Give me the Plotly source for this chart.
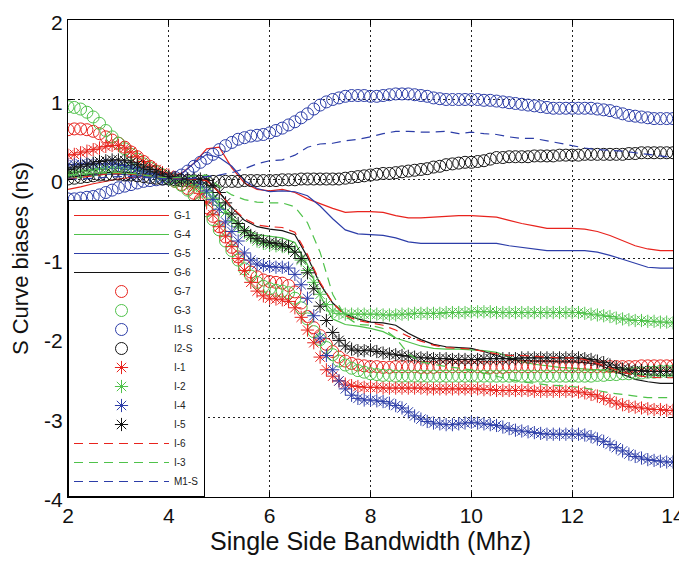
import numpy as np
import plotly.graph_objects as go

# ---------------- data ----------------
# marker series sampled every 0.125 MHz, line series every 0.25 MHz
x_mk = np.round(np.arange(2, 14.0001, 0.125), 3)
x_ln = np.round(np.arange(2, 14.0001, 0.25), 3)

g7 = [0.62, 0.63, 0.63, 0.62, 0.60, 0.57, 0.53, 0.49,
      0.45, 0.40, 0.34, 0.28, 0.22, 0.16, 0.10, 0.05,
      0.01, -0.03, -0.07, -0.12, -0.18, -0.26, -0.36, -0.47,
      -0.60, -0.73, -0.86, -0.98, -1.09, -1.17, -1.23, -1.27,
      -1.29, -1.30, -1.31, -1.34, -1.42, -1.56, -1.73, -1.87,
      -1.97, -2.08, -2.17, -2.24, -2.29, -2.32, -2.34, -2.35,
      -2.36, -2.36, -2.37, -2.37, -2.36, -2.36, -2.36, -2.36,
      -2.37, -2.37, -2.37, -2.36, -2.36, -2.36, -2.36, -2.36,
      -2.36, -2.36, -2.37, -2.37, -2.37, -2.37, -2.36, -2.36,
      -2.36, -2.36, -2.36, -2.36, -2.36, -2.36, -2.36, -2.36,
      -2.36, -2.36, -2.36, -2.36, -2.36, -2.36, -2.36, -2.36,
      -2.36, -2.36, -2.36, -2.35, -2.35, -2.35, -2.35, -2.35,
      -2.35]
g3 = [0.91, 0.90, 0.88, 0.84, 0.78, 0.70, 0.61, 0.53,
      0.45, 0.38, 0.31, 0.25, 0.19, 0.14, 0.09, 0.05,
      0.01, -0.03, -0.08, -0.14, -0.21, -0.30, -0.40, -0.51,
      -0.64, -0.78, -0.90, -1.02, -1.13, -1.22, -1.30, -1.35,
      -1.38, -1.40, -1.41, -1.43, -1.50, -1.62, -1.76, -1.92,
      -2.02, -2.12, -2.21, -2.29, -2.34, -2.38, -2.41, -2.43,
      -2.45, -2.46, -2.47, -2.47, -2.48, -2.48, -2.48, -2.48,
      -2.48, -2.48, -2.48, -2.48, -2.48, -2.48, -2.48, -2.48,
      -2.48, -2.48, -2.48, -2.48, -2.48, -2.48, -2.48, -2.48,
      -2.48, -2.48, -2.48, -2.48, -2.48, -2.48, -2.48, -2.48,
      -2.48, -2.48, -2.48, -2.48, -2.47, -2.47, -2.46, -2.46,
      -2.45, -2.45, -2.44, -2.44, -2.43, -2.43, -2.42, -2.42,
      -2.42]
i1s = [-0.25, -0.25, -0.24, -0.23, -0.22, -0.20, -0.17, -0.14,
       -0.11, -0.09, -0.07, -0.05, -0.03, -0.02, -0.01, 0.00,
       0.00, 0.02, 0.05, 0.10, 0.16, 0.21, 0.26, 0.31,
       0.37, 0.42, 0.46, 0.50, 0.52, 0.54, 0.55, 0.56,
       0.58, 0.61, 0.64, 0.68, 0.72, 0.77, 0.82, 0.88,
       0.93, 0.97, 1.00, 1.02, 1.04, 1.05, 1.05, 1.05,
       1.04, 1.04, 1.05, 1.06, 1.07, 1.07, 1.07, 1.06,
       1.05, 1.04, 1.02, 1.01, 1.00, 1.00, 1.00, 1.00,
       1.00, 1.00, 0.99, 0.99, 0.98, 0.97, 0.96, 0.95,
       0.94, 0.93, 0.92, 0.91, 0.90, 0.89, 0.89, 0.89,
       0.89, 0.89, 0.89, 0.89, 0.88, 0.87, 0.86, 0.84,
       0.82, 0.80, 0.79, 0.78, 0.77, 0.76, 0.76, 0.76,
       0.76]
i2s = [0.00, 0.01, 0.02, 0.03, 0.04, 0.05, 0.05, 0.06,
       0.06, 0.05, 0.05, 0.04, 0.03, 0.02, 0.01, 0.00,
       0.00, -0.01, -0.02, -0.02, -0.03, -0.03, -0.03, -0.03,
       -0.03, -0.03, -0.03, -0.03, -0.02, -0.02, -0.02, -0.02,
       -0.02, -0.02, -0.01, -0.01, -0.01, 0.00, 0.00, 0.00,
       0.00, 0.00, 0.00, 0.00, 0.01, 0.02, 0.03, 0.04,
       0.05, 0.06, 0.07, 0.07, 0.08, 0.09, 0.10, 0.11,
       0.12, 0.13, 0.15, 0.16, 0.18, 0.19, 0.20, 0.21,
       0.21, 0.22, 0.23, 0.25, 0.27, 0.27, 0.28, 0.28,
       0.28, 0.28, 0.29, 0.29, 0.29, 0.29, 0.30, 0.30,
       0.30, 0.30, 0.31, 0.31, 0.31, 0.31, 0.31, 0.31,
       0.31, 0.32, 0.32, 0.33, 0.33, 0.33, 0.33, 0.33,
       0.33]
i1 = [0.30, 0.31, 0.33, 0.35, 0.37, 0.39, 0.41, 0.42,
      0.42, 0.39, 0.34, 0.28, 0.22, 0.16, 0.12, 0.08,
      0.05, 0.02, -0.01, -0.05, -0.10, -0.18, -0.30, -0.45,
      -0.60, -0.72, -0.85, -1.00, -1.15, -1.30, -1.41, -1.47,
      -1.50, -1.51, -1.52, -1.54, -1.62, -1.74, -1.90, -2.06,
      -2.24, -2.40, -2.48, -2.54, -2.58, -2.60, -2.61, -2.62,
      -2.62, -2.62, -2.63, -2.63, -2.63, -2.63, -2.63, -2.63,
      -2.63, -2.64, -2.64, -2.64, -2.64, -2.64, -2.64, -2.64,
      -2.64, -2.64, -2.65, -2.65, -2.66, -2.66, -2.66, -2.66,
      -2.66, -2.66, -2.67, -2.67, -2.67, -2.67, -2.67, -2.67,
      -2.67, -2.68, -2.69, -2.71, -2.73, -2.76, -2.79, -2.82,
      -2.84, -2.86, -2.87, -2.88, -2.89, -2.90, -2.90, -2.91,
      -2.91]
i2 = [0.08, 0.09, 0.10, 0.11, 0.12, 0.13, 0.14, 0.15,
      0.15, 0.15, 0.14, 0.12, 0.10, 0.07, 0.04, 0.02,
      0.00, -0.01, -0.02, -0.04, -0.07, -0.11, -0.17, -0.24,
      -0.33, -0.42, -0.52, -0.60, -0.67, -0.73, -0.78, -0.81,
      -0.83, -0.84, -0.85, -0.87, -0.92, -1.02, -1.15, -1.30,
      -1.45, -1.58, -1.66, -1.69, -1.70, -1.70, -1.70, -1.70,
      -1.70, -1.70, -1.71, -1.71, -1.71, -1.70, -1.70, -1.69,
      -1.69, -1.69, -1.69, -1.69, -1.68, -1.68, -1.68, -1.68,
      -1.67, -1.67, -1.67, -1.67, -1.68, -1.68, -1.68, -1.68,
      -1.68, -1.68, -1.68, -1.68, -1.68, -1.68, -1.68, -1.68,
      -1.68, -1.68, -1.69, -1.70, -1.71, -1.72, -1.73, -1.75,
      -1.76, -1.77, -1.78, -1.78, -1.79, -1.79, -1.80, -1.80,
      -1.81]
i4 = [0.18, 0.18, 0.19, 0.19, 0.19, 0.19, 0.19, 0.19,
      0.18, 0.17, 0.15, 0.13, 0.10, 0.07, 0.04, 0.02,
      0.02, 0.01, 0.00, 0.00, 0.00, -0.05, -0.15, -0.26,
      -0.38, -0.54, -0.66, -0.78, -0.93, -1.02, -1.07, -1.09,
      -1.10, -1.11, -1.11, -1.12, -1.20, -1.33, -1.50, -1.72,
      -2.00, -2.22, -2.40, -2.54, -2.64, -2.72, -2.76, -2.78,
      -2.78, -2.79, -2.80, -2.82, -2.85, -2.88, -2.93, -2.98,
      -3.02, -3.05, -3.07, -3.08, -3.09, -3.09, -3.08, -3.07,
      -3.06, -3.07, -3.08, -3.09, -3.10, -3.12, -3.14, -3.16,
      -3.17, -3.18, -3.19, -3.20, -3.21, -3.21, -3.21, -3.21,
      -3.21, -3.21, -3.22, -3.24, -3.27, -3.30, -3.34, -3.38,
      -3.42, -3.46, -3.49, -3.51, -3.53, -3.54, -3.55, -3.56,
      -3.56]
i5 = [0.12, 0.14, 0.16, 0.18, 0.20, 0.22, 0.23, 0.24,
      0.24, 0.23, 0.21, 0.18, 0.15, 0.12, 0.09, 0.06,
      0.03, 0.01, 0.00, 0.00, 0.00, 0.00, -0.02, -0.08,
      -0.17, -0.30, -0.44, -0.56, -0.65, -0.71, -0.75, -0.78,
      -0.80, -0.81, -0.83, -0.85, -0.92, -1.00, -1.18, -1.38,
      -1.60, -1.78, -1.93, -2.03, -2.10, -2.14, -2.16, -2.16,
      -2.15, -2.17, -2.19, -2.20, -2.21, -2.22, -2.23, -2.24,
      -2.25, -2.25, -2.26, -2.26, -2.26, -2.27, -2.27, -2.27,
      -2.27, -2.27, -2.26, -2.26, -2.26, -2.26, -2.26, -2.26,
      -2.25, -2.25, -2.25, -2.25, -2.25, -2.25, -2.25, -2.25,
      -2.25, -2.25, -2.26, -2.27, -2.29, -2.31, -2.34, -2.37,
      -2.39, -2.40, -2.41, -2.41, -2.42, -2.42, -2.42, -2.42,
      -2.42]

g1 = [-0.13, -0.10, -0.06, -0.03, 0.00, 0.02, 0.03, 0.03,
      0.02, 0.07, 0.20, 0.38, 0.40, 0.14, -0.05, -0.13,
      -0.15, -0.13, -0.17, -0.25, -0.31, -0.37, -0.42, -0.41,
      -0.41, -0.42, -0.46, -0.49, -0.49, -0.48, -0.47, -0.46,
      -0.46, -0.47, -0.48, -0.52, -0.56, -0.59, -0.62, -0.62,
      -0.62, -0.63, -0.66, -0.71, -0.78, -0.84, -0.88, -0.90,
      -0.90]
g4 = [0.00, 0.02, 0.04, 0.06, 0.07, 0.06, 0.04, 0.02,
      0.00, -0.01, -0.02, -0.06, -0.30, -0.50, -0.63, -0.70,
      -0.72, -0.74, -0.80, -1.08, -1.46, -1.76, -1.83, -1.85,
      -1.88, -1.92, -2.00, -2.05, -2.10, -2.13, -2.14, -2.14,
      -2.15, -2.16, -2.18, -2.24, -2.30, -2.33, -2.35, -2.37,
      -2.38, -2.39, -2.40, -2.42, -2.44, -2.45, -2.46, -2.47,
      -2.47]
g5 = [0.03, 0.04, 0.05, 0.06, 0.06, 0.05, 0.04, 0.02,
      0.00, 0.06, 0.20, 0.31, 0.27, 0.16, -0.02, -0.12,
      -0.16, -0.15, -0.16, -0.21, -0.34, -0.50, -0.64, -0.69,
      -0.70, -0.71, -0.74, -0.79, -0.81, -0.81, -0.81, -0.81,
      -0.81, -0.81, -0.81, -0.84, -0.86, -0.88, -0.90, -0.90,
      -0.90, -0.90, -0.92, -0.96, -1.01, -1.06, -1.11, -1.12,
      -1.12]
g6 = [0.02, 0.04, 0.06, 0.08, 0.09, 0.08, 0.06, 0.03,
      0.01, 0.00, 0.00, -0.01, -0.17, -0.36, -0.52, -0.60,
      -0.63, -0.65, -0.70, -0.98, -1.32, -1.56, -1.70, -1.76,
      -1.80, -1.81, -1.84, -1.94, -2.02, -2.08, -2.11, -2.12,
      -2.13, -2.17, -2.22, -2.27, -2.28, -2.29, -2.29, -2.30,
      -2.30, -2.31, -2.33, -2.39, -2.46, -2.52, -2.55, -2.57,
      -2.57]
i6 = [0.00, 0.02, 0.04, 0.06, 0.07, 0.06, 0.05, 0.03,
      0.01, 0.00, 0.00, -0.02, -0.17, -0.36, -0.50, -0.58,
      -0.60, -0.61, -0.67, -0.95, -1.30, -1.56, -1.72, -1.78,
      -1.81, -1.84, -1.90, -1.98, -2.04, -2.09, -2.12, -2.13,
      -2.14, -2.17, -2.20, -2.22, -2.22, -2.23, -2.24, -2.25,
      -2.25, -2.27, -2.32, -2.38, -2.43, -2.47, -2.49, -2.50,
      -2.50]
i3 = [0.05, 0.06, 0.07, 0.08, 0.08, 0.07, 0.05, 0.03,
      0.01, 0.02, 0.04, 0.05, -0.10, -0.20, -0.26, -0.29,
      -0.30, -0.30, -0.35, -0.55, -0.92, -1.45, -1.73, -1.83,
      -1.84, -1.88, -2.00, -2.20, -2.30, -2.33, -2.36, -2.38,
      -2.40, -2.44, -2.48, -2.52, -2.55, -2.57, -2.59, -2.60,
      -2.61, -2.63, -2.66, -2.69, -2.71, -2.73, -2.75, -2.75,
      -2.75]
m1s = [0.00, 0.00, 0.01, 0.02, 0.03, 0.03, 0.02, 0.01,
       0.00, 0.00, 0.01, 0.03, 0.05, 0.08, 0.13, 0.19,
       0.23, 0.24, 0.30, 0.40, 0.44, 0.45, 0.48, 0.50,
       0.53, 0.57, 0.60, 0.60, 0.59, 0.59, 0.60, 0.57,
       0.59, 0.57, 0.56, 0.53, 0.51, 0.51, 0.48, 0.45,
       0.42, 0.39, 0.37, 0.36, 0.35, 0.33, 0.31, 0.29,
       0.27]

x_ticks = [2, 4, 6, 8, 10, 12, 14]
y_ticks = [-4, -3, -2, -1, 0, 1, 2]

# ---------------- styling ----------------
RED, GREEN, BLUE, BLACK = "#e8231d", "#4fc24a", "#2c3da8", "#141414"
FONT = "Liberation Sans, Arial, sans-serif"
DASH = "9px,6px"

series = [
    ("G-1", x_ln, g1, RED, "line", "solid"),
    ("G-4", x_ln, g4, GREEN, "line", "solid"),
    ("G-5", x_ln, g5, BLUE, "line", "solid"),
    ("G-6", x_ln, g6, BLACK, "line", "solid"),
    ("G-7", x_mk, g7, RED, "circle-open", None),
    ("G-3", x_mk, g3, GREEN, "circle-open", None),
    ("I1-S", x_mk, i1s, BLUE, "circle-open", None),
    ("I2-S", x_mk, i2s, BLACK, "circle-open", None),
    ("I-1", x_mk, i1, RED, "asterisk-open", None),
    ("I-2", x_mk, i2, GREEN, "asterisk-open", None),
    ("I-4", x_mk, i4, BLUE, "asterisk-open", None),
    ("I-5", x_mk, i5, BLACK, "asterisk-open", None),
    ("I-6", x_ln, i6, RED, "line", DASH),
    ("I-3", x_ln, i3, GREEN, "line", DASH),
    ("M1-S", x_ln, m1s, BLUE, "line", DASH),
]

fig = go.Figure()
for name, xs, ys, col, kind, dash in series:
    if kind == "line":
        fig.add_trace(go.Scatter(x=xs, y=ys, name=name, mode="lines",
                                 line=dict(color=col, width=1.2, dash=dash)))
    else:
        fig.add_trace(go.Scatter(x=xs, y=ys, name=name, mode="markers",
                                 marker=dict(symbol=kind, size=12 if kind == "circle-open" else 11,
                                             color=col, line=dict(color=col, width=1))))

axis_common = dict(
    showline=True, linecolor="black", linewidth=1, mirror="ticks",
    ticks="inside", ticklen=5, tickcolor="black", automargin=False,
    ticklabeloverflow="allow",
    showgrid=True, gridcolor="#222", gridwidth=1, griddash="2px,3px",
    zeroline=False, tickfont=dict(family=FONT, size=21, color="#111"),
)

# the page body has an 8px margin, so the figure is sized to fit the window
fig.update_layout(
    width=679, height=547,
    margin=dict(l=60, r=14, t=12, b=58),
    paper_bgcolor="white", plot_bgcolor="white",
    font=dict(family=FONT, color="#111"),
    showlegend=True,
    legend=dict(x=0, y=0, xanchor="left", yanchor="bottom",
                bgcolor="white", bordercolor="black", borderwidth=1,
                font=dict(family=FONT, size=10, color="#222"),
                tracegroupgap=0, itemwidth=95),
)
fig.update_xaxes(range=[2, 14], tickvals=x_ticks, ticktext=[str(v) for v in x_ticks],
                 title=dict(text="Single Side Bandwidth (Mhz)", font=dict(family=FONT, size=25), standoff=12),
                 **axis_common)
fig.update_yaxes(range=[-4, 2], tickvals=y_ticks, ticktext=[str(v) for v in y_ticks],
                 ticklabelshift=3,
                 title=dict(text="S Curve biases (ns)", font=dict(family=FONT, size=22), standoff=12),
                 **axis_common)

fig.write_html("out.html")
